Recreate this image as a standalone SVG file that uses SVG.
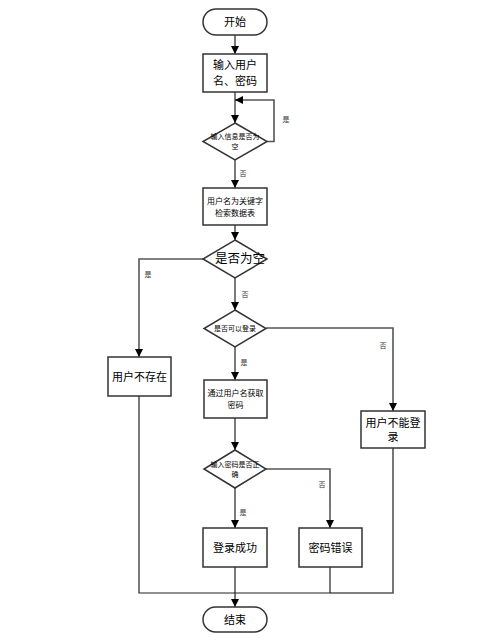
<svg xmlns="http://www.w3.org/2000/svg" width="493" height="642" viewBox="0 0 493 642">
<style>
text{font-family:"Liberation Sans","Noto Sans CJK SC",sans-serif;fill:#000;text-anchor:middle;dominant-baseline:central}
.n{fill:#fff;stroke:#333;stroke-width:1.5}
.c{fill:none;stroke:#222;stroke-width:1.2}
.g{fill:none;stroke:#555;stroke-width:1.6}
.l{font-size:7px;fill:#333}
.s{font-size:7px}
.m{font-size:8px}
.b{font-size:11px}
</style>
<defs>
<marker id="a" viewBox="0 0 10 10" refX="10" refY="5" markerWidth="8" markerHeight="8" markerUnits="userSpaceOnUse" orient="auto"><path d="M0,0L10,5L0,10z" fill="#000"/></marker>
</defs>
<g id="connectors">
<path class="c" d="M235,35V54" marker-end="url(#a)"/>
<path class="c" d="M235,92V123" marker-end="url(#a)"/>
<path class="g" d="M267,141.5H274V100H243"/>
<path class="c" d="M243,100H235" marker-end="url(#a)"/>
<path class="c" d="M235,160V188" marker-end="url(#a)"/>
<path class="c" d="M235,225V240" marker-end="url(#a)"/>
<path class="g" d="M203,259H139V270"/>
<path class="c" d="M139,270V357" marker-end="url(#a)"/>
<path class="c" d="M235,278V310" marker-end="url(#a)"/>
<path class="g" d="M266,328H393V390"/>
<path class="g" d="M393,390V411" marker-end="url(#a)"/>
<path class="c" d="M235,347V380" marker-end="url(#a)"/>
<path class="c" d="M235,418V450" marker-end="url(#a)"/>
<path class="g" d="M266,469H330V510"/>
<path class="c" d="M330,510V528" marker-end="url(#a)"/>
<path class="c" d="M235,488V528" marker-end="url(#a)"/>
<path class="c" d="M139,396V593H330"/>
<path class="g" d="M330,593H393V448"/>
<path class="c" d="M330,567V593"/>
<path class="c" d="M235,567V607" marker-end="url(#a)"/>
<text class="l" x="286" y="119">是</text>
<text class="l" x="243" y="173">否</text>
<text class="l" x="148" y="274">是</text>
<text class="l" x="245" y="294">否</text>
<text class="l" x="383" y="345">否</text>
<text class="l" x="244" y="362">是</text>
<text class="l" x="322" y="484">否</text>
<text class="l" x="243" y="512">是</text>
</g>
<g id="start"><rect class="n" x="203" y="9" width="64" height="26" rx="13"/><text class="b" x="235" y="22">开始</text></g>
<g id="input"><rect class="n" x="203" y="54" width="64" height="38"/><text class="b" x="235" y="65">输入用户</text><text class="b" x="235" y="81">名、密码</text></g>
<g id="check-empty-input"><polygon class="n" points="235,123 267,141.5 235,160 203,141.5"/><text class="s" x="235" y="136">输入信息是否为</text><text class="s" x="235" y="146">空</text></g>
<g id="search"><rect class="n" x="203" y="188" width="64" height="37"/><text class="m" x="235" y="201">用户名为关键字</text><text class="m" x="235" y="213">检索数据表</text></g>
<g id="is-empty"><polygon class="n" points="235,240 267,259 235,278 203,259"/><text class="b" style="font-size:12.5px" x="240" y="259">是否为空</text></g>
<g id="can-login"><polygon class="n" points="235,310 266,328.5 235,347 204,328.5"/><text class="s" x="235" y="328.5">是否可以登录</text></g>
<g id="not-exist"><rect class="n" x="108" y="357" width="63" height="39"/><text class="b" x="139.5" y="377">用户不存在</text></g>
<g id="get-password"><rect class="n" x="204" y="380" width="63" height="38"/><text class="m" x="235.5" y="393">通过用户名获取</text><text class="m" x="235.5" y="405">密码</text></g>
<g id="cannot-login"><rect class="n" x="361" y="411" width="64" height="37"/><text class="b" x="393" y="423">用户不能登</text><text class="b" x="393" y="437">录</text></g>
<g id="check-password"><polygon class="n" points="235,450 266,469 235,488 204,469"/><text class="s" x="235" y="464">输入密码是否正</text><text class="s" x="235" y="474">确</text></g>
<g id="success"><rect class="n" x="203" y="528" width="64" height="39"/><text class="b" x="235" y="547.5">登录成功</text></g>
<g id="wrong"><rect class="n" x="299" y="528" width="63" height="39"/><text class="b" x="330.5" y="547.5">密码错误</text></g>
<g id="end"><rect class="n" x="203" y="607" width="64" height="25" rx="12.5"/><text class="b" x="235" y="619.5">结束</text></g>
</svg>
